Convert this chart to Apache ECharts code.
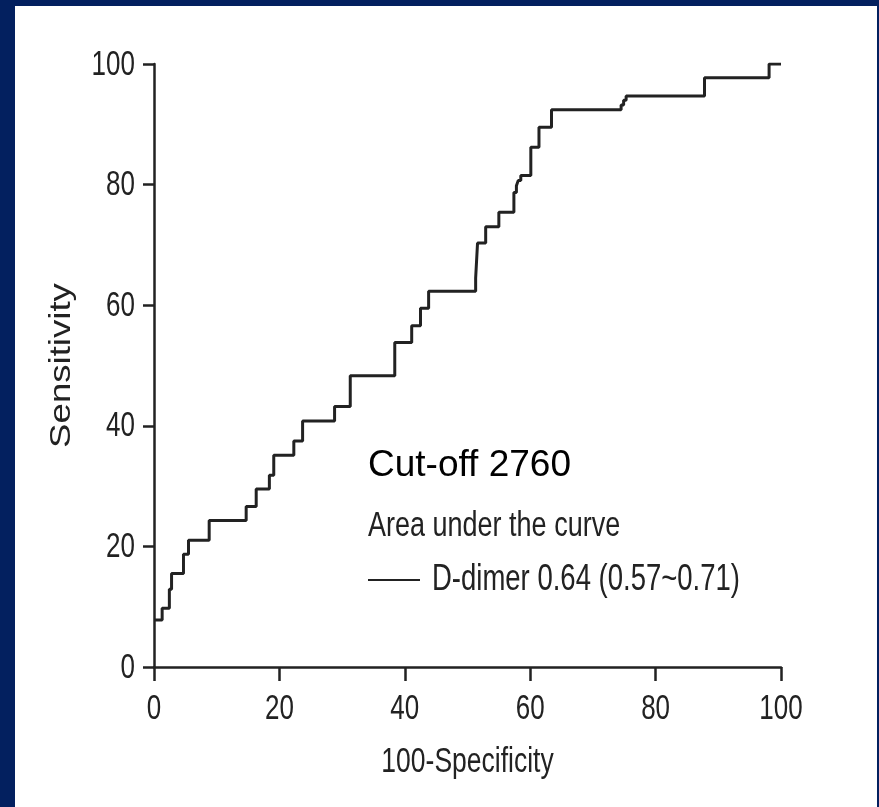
<!DOCTYPE html>
<html>
<head>
<meta charset="utf-8">
<title>ROC curve – D-dimer</title>
<script src="https://cdn.jsdelivr.net/npm/echarts@6/dist/echarts.min.js"></script>
<style>
  html, body { margin: 0; padding: 0; background: #03205f; }
  #chart { width: 879px; height: 807px; }
</style>
</head>
<body>
<div id="chart"></div>
<script>
// ROC curve corner points: each point is where a vertical rise ends
const specComplement = [0, 1.3, 2.45, 2.8, 4.7, 5.5, 8.8, 14.7, 16.3, 18.4, 19.1, 22.3, 23.7, 28.8, 31.3,
  38.4, 41.1, 42.5, 43.8, 51.3, 51.6, 52.9, 55.0, 57.4, 57.8, 58.1, 58.5, 60.1, 61.4, 63.4,
  74.5, 74.9, 75.3, 87.8, 98.1, 100];
const sensitivity = [7.8, 9.75, 12.9, 15.5, 18.7, 21.0, 24.3, 26.6, 29.5, 31.8, 35.1, 37.5, 40.8, 43.2, 48.3,
  53.8, 56.6, 59.5, 62.3, 64.5, 70.3, 73.0, 75.4, 78.7, 79.8, 80.7, 81.5, 86.2, 89.5, 92.4,
  93.2, 94.0, 94.7, 97.7, 100, 100];

const axisTicks = [0, 20, 40, 60, 80, 100];
const seriesName = 'D-dimer 0.64 (0.57~0.71)';
const aucHeading = 'Area under the curve';
const cutoffNote = 'Cut-off 2760';
const xTitle = '100-Specificity';
const yTitle = 'Sensitivity';

// The figure's lettering is a tall, narrow sans: a regular face stretched vertically
const face = "'Liberation Sans', Arial, Helvetica, sans-serif";
const stretch = 1.33;
const ink = '#222222';

const chart = echarts.init(document.getElementById('chart'), null, { renderer: 'canvas' });

const axisCommon = {
  type: 'value',
  min: axisTicks[0],
  max: axisTicks[axisTicks.length - 1],
  interval: axisTicks[1] - axisTicks[0],
  splitLine: { show: false },
  axisLine: { show: true, lineStyle: { color: ink, width: 2.5 } },
  axisTick: { show: true, inside: false, lineStyle: { color: ink, width: 2.5 } },
  axisLabel: { show: false }
};

chart.setOption({
  backgroundColor: '#03205f',
  animation: false,
  grid: { left: 154, right: 98, top: 64, bottom: 140 },
  xAxis: Object.assign({}, axisCommon, {
    axisTick: Object.assign({}, axisCommon.axisTick, { length: 14 })
  }),
  yAxis: Object.assign({}, axisCommon, {
    axisTick: Object.assign({}, axisCommon.axisTick, { length: 11 })
  }),
  series: [{
    name: seriesName,
    type: 'line',
    step: 'end',
    symbol: 'none',
    color: ink,
    lineStyle: { color: ink, width: 3 },
    data: specComplement.map((x, i) => [x, sensitivity[i]])
  }]
});

// Stretched text helper (local origin at the anchor so scaling keeps it in place)
function label(text, x, y, opts) {
  opts = opts || {};
  return {
    type: 'text',
    x: x, y: y,
    rotation: opts.rotation || 0,
    scaleX: opts.scaleX || 1,
    scaleY: opts.scaleY || 1,
    silent: true,
    style: {
      text: text,
      fill: opts.fill || ink,
      font: (opts.size || 26) + 'px ' + (opts.family || face),
      align: opts.align || 'left',
      verticalAlign: 'middle'
    }
  };
}

const graphics = [
  { type: 'rect', z: -10, silent: true, shape: { x: 15, y: 6, width: 862, height: 801 }, style: { fill: '#ffffff' } }
];

// Tick labels, placed through the axes' own scales
axisTicks.forEach(v => {
  const py = chart.convertToPixel({ gridIndex: 0 }, [0, v]);
  graphics.push(label(String(v), py[0] - 19, py[1] + 1, { align: 'right', size: 26, scaleY: stretch }));
  const px = chart.convertToPixel({ gridIndex: 0 }, [v, 0]);
  graphics.push(label(String(v), px[0], px[1] + 42, { align: 'center', size: 26, scaleY: stretch }));
});

// Axis titles
const xMid = chart.convertToPixel({ gridIndex: 0 }, [50, 0]);
graphics.push(label(xTitle, xMid[0], xMid[1] + 95, { align: 'center', size: 26.5, scaleY: stretch }));
const yMid = chart.convertToPixel({ gridIndex: 0 }, [0, 50]);
graphics.push(label(yTitle, yMid[0] - 92, yMid[1], { align: 'center', size: 30, rotation: Math.PI / 2, scaleX: 1.22 }));

// Annotation and curve key
graphics.push(label(cutoffNote, 368, 466, { size: 37, fill: '#000000' }));
graphics.push(label(aucHeading, 368, 526, { size: 27, scaleY: stretch }));
graphics.push({
  type: 'line', silent: true,
  shape: { x1: 368, y1: 580, x2: 420, y2: 580 },
  style: { stroke: ink, lineWidth: 2 }
});
graphics.push(label(seriesName, 432, 580, { size: 27.5, scaleY: stretch }));

chart.setOption({ graphic: graphics });
</script>
</body>
</html>
